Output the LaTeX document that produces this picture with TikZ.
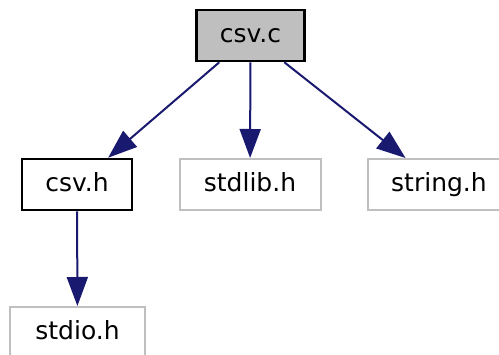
\documentclass[tikz,border=0pt]{standalone}
\usepackage{fontspec}
\setmainfont{DejaVu Sans}
\usetikzlibrary{arrows.meta}
\definecolor{edgeblue}{HTML}{191970}
\definecolor{nodegray}{HTML}{BFBFBF}
\tikzset{
  filebox/.style={rectangle, inner sep=0pt, text height=18pt, text depth=4pt,
    font=\fontsize{25}{30}\selectfont, align=center},
  mainbox/.style={filebox, draw=black, line width=2.6pt, fill=nodegray},
  localbox/.style={filebox, draw=black, line width=2.6pt, fill=white},
  sysbox/.style={filebox, draw=nodegray, line width=2pt, fill=white},
  dep/.style={draw=edgeblue, line width=2pt,
    -{Triangle[length=29pt, width=21pt]}, shorten >=0pt}
}
\begin{document}
\begin{tikzpicture}[x=1pt, y=-1pt]
\useasboundingbox (0,0) rectangle (499,355);
\node[mainbox, minimum width=108pt, minimum height=51pt] (csvc) at (250.5,35.5) {csv.c};
\node[localbox, minimum width=110pt, minimum height=51pt] (csvh) at (77,184.5) {csv.h};
\node[sysbox, minimum width=141pt, minimum height=51pt] (stdlib) at (250,184.5) {stdlib.h};
\node[sysbox, minimum width=142pt, minimum height=51pt] (string) at (439,184.5) {string.h};
\node[sysbox, minimum width=135pt, minimum height=51pt] (stdio) at (77.5,332.5) {stdio.h};
\draw[dep] (csvc) -- (csvh);
\draw[dep] (csvc) -- (stdlib);
\draw[dep] (csvc) -- (string);
\draw[dep] (csvh) -- (stdio);
\end{tikzpicture}
\end{document}
